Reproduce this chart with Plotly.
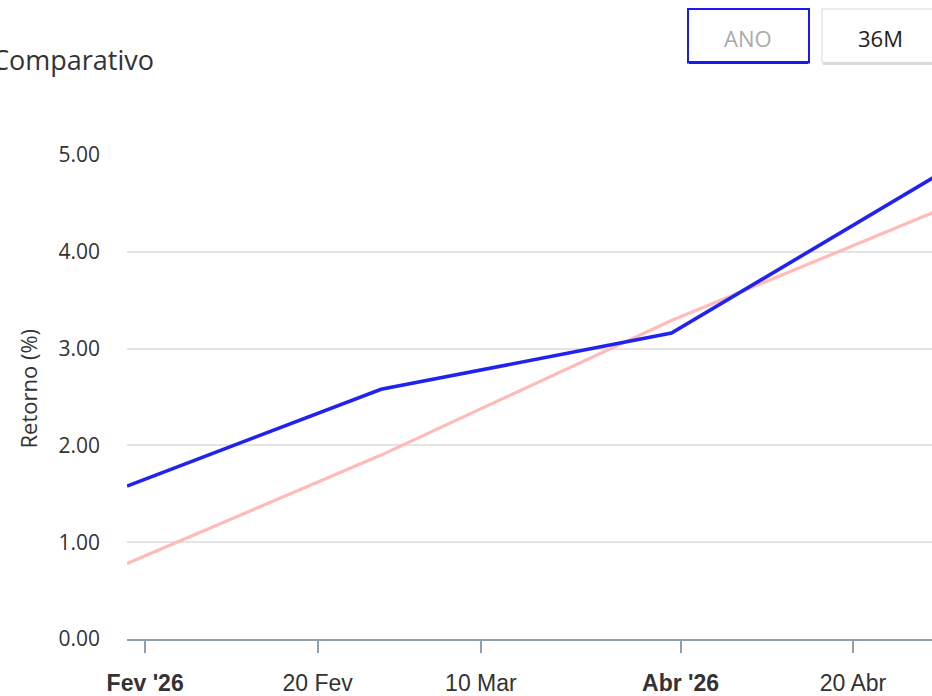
import plotly.graph_objects as go

# ---- data ----
dates = ["2026-01-30", "2026-02-27", "2026-03-31", "2026-04-30"]
fundo = [1.58, 2.58, 3.16, 4.83]
benchmark = [0.78, 1.90, 3.29, 4.45]

tick_dates = ["2026-02-01", "2026-02-20", "2026-03-10", "2026-04-01", "2026-04-20"]
tick_labels = ["<b>Fev '26</b>", "20 Fev", "10 Mar", "<b>Abr '26</b>", "20 Abr"]
y_ticks = [0, 1, 2, 3, 4, 5]
y_labels = ["0.00", "1.00", "2.00", "3.00", "4.00", "5.00"]

W, H = 932, 696
L, R, T, B = 127, 0, 155, 54
PW = W - L - R
PH = H - T - B


def px(x):
    return (x - L) / PW


def py(y):
    return (H - B - y) / PH


fig = go.Figure()
fig.add_trace(go.Scatter(x=dates, y=benchmark, mode="lines", name="Benchmark",
                         line=dict(color="#ffbaba", width=3.2), showlegend=False))
fig.add_trace(go.Scatter(x=dates, y=fundo, mode="lines", name="Fundo",
                         line=dict(color="#2222ee", width=3.6), showlegend=False))

axis_col = "#8e9fae"
fig.update_layout(
    width=W, height=H,
    margin=dict(l=L, r=R, t=T, b=B, pad=0),
    paper_bgcolor="white", plot_bgcolor="white",
    font=dict(family="Open Sans", color="#333333"),
    xaxis=dict(
        type="date",
        range=["2026-01-30", "2026-04-28 17:00"],
        tickmode="array", tickvals=tick_dates, ticktext=tick_labels,
        tickfont=dict(family="Liberation Sans, Arial", size=23, color="#333333"),
        ticks="outside", ticklen=12, tickwidth=2, tickcolor=axis_col,
        showline=True, linecolor=axis_col, linewidth=2,
        showgrid=False, zeroline=False,
        ticklabelstandoff=10,
    ),
    yaxis=dict(
        range=[0, 5.0],
        tickmode="array", tickvals=y_ticks, ticktext=y_labels,
        tickfont=dict(family="Open Sans", size=21, color="#333333"),
        ticks="", ticklabelstandoff=26,
        showgrid=True, gridcolor="#e4e4e4", gridwidth=2,
        zeroline=False, showline=False,
    ),
)

# y axis title
fig.add_annotation(text="Retorno (%)", x=px(28), y=py(390), xref="paper", yref="paper",
                   showarrow=False, textangle=-90, font=dict(size=22, color="#333333"),
                   xanchor="center", yanchor="middle")

# chart title (cut off at left, as in the reference)
fig.add_annotation(text="Comparativo", x=px(156), y=py(59), xref="paper", yref="paper",
                   showarrow=False, font=dict(size=27, color="#333333"),
                   xanchor="right", yanchor="middle")

# buttons
fig.add_shape(type="rect", xref="paper", yref="paper",
              x0=px(688), x1=px(809), y0=py(62), y1=py(8),
              line=dict(color="#1a1aee", width=2), fillcolor="white")
fig.add_shape(type="line", xref="paper", yref="paper",
              x0=px(689), x1=px(808), y0=py(62), y1=py(62),
              line=dict(color="#1a1aee", width=3))
fig.add_annotation(text="ANO", x=px(748), y=py(37), xref="paper", yref="paper",
                   showarrow=False, font=dict(size=22, color="#aaaaaa"),
                   xanchor="center", yanchor="middle")

fig.add_shape(type="rect", xref="paper", yref="paper",
              x0=px(822), x1=px(945), y0=py(62), y1=py(8),
              line=dict(color="#e6e6e6", width=1.5), fillcolor="white")
fig.add_shape(type="line", xref="paper", yref="paper",
              x0=px(823), x1=px(945), y0=py(63), y1=py(63),
              line=dict(color="#dadada", width=3))
fig.add_annotation(text="36M", x=px(880), y=py(37), xref="paper", yref="paper",
                   showarrow=False, font=dict(size=22, color="#222222"),
                   xanchor="center", yanchor="middle")

fig.write_html("out.html",
               config={"displayModeBar": False},
               post_script="document.body.style.margin='0';document.body.style.overflow='hidden';")
